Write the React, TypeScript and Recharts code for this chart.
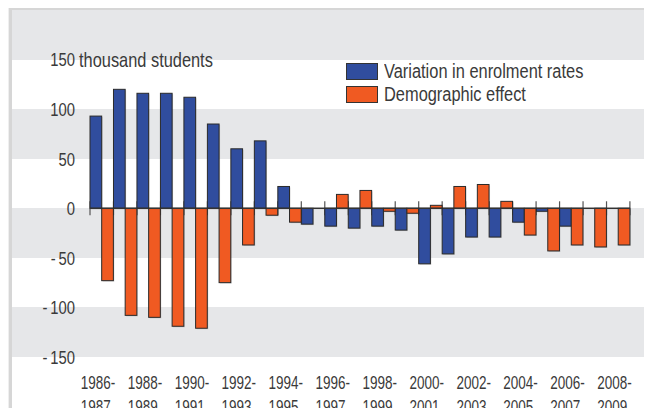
import React from "react";
import { Bar, BarChart, CartesianGrid, Legend, XAxis, YAxis } from "recharts";

const periods = [
  "1986-1987", "1987-1988", "1988-1989", "1989-1990", "1990-1991", "1991-1992",
  "1992-1993", "1993-1994", "1994-1995", "1995-1996", "1996-1997", "1997-1998",
  "1998-1999", "1999-2000", "2000-2001", "2001-2002", "2002-2003", "2003-2004",
  "2004-2005", "2005-2006", "2006-2007", "2007-2008", "2008-2009",
];
// thousand students
const enrolmentRates = [93, 120, 116, 116, 112, 85, 60, 68, 22, -16, -18, -20, -18, -22, -56, -46, -29, -29, -14, -3, -18, 0, 0];
const demographicEffect = [-73, -108, -110, -119, -121, -75, -37, -7, -14, 0, 14, 18, -3, -5, 3, 22, 24, 7, -27, -43, -37, -39, -37];
const yTicks = [-150, -100, -50, 0, 50, 100, 150];
const seriesNames = ["Variation in enrolment rates", "Demographic effect"];

const data = periods.map((period, i) => ({
  period,
  rates: enrolmentRates[i],
  demo: demographicEffect[i],
}));

// no condensed font installed, so Liberation Sans is squeezed horizontally
const FONT = '"Liberation Sans", Arial, sans-serif';
const TEXT = "#3a3a3a";
const BLUE = "#304d9e";
const ORANGE = "#f05a22";
const GREY = "#e6e7e9";

const width = 652;
const height = 416;
const margin = { top: 10, right: 0, left: 11, bottom: 0 };
const pad = { left: 78, right: 22 };
const band = (width - 12 - pad.left - pad.right) / periods.length;
const barSize = band / 2 - 0.05;

const NarrowText = ({ x, y, size, sx, anchor = "start", dy = 0, children }: any) => (
  <text
    transform={`translate(${x},${y}) scale(${sx},1)`}
    dy={dy}
    textAnchor={anchor}
    fontSize={size}
    fontFamily={FONT}
    fill={TEXT}
  >
    {children}
  </text>
);

const makeShape = (first: boolean) => (props: any) => {
  const { x, y, width: w, height: h, fill, index } = props;
  const zero = y + h;
  const top = Math.min(y, zero);
  const hh = Math.abs(h);
  const last = index === periods.length - 1;
  return (
    <g>
      {first && <line x1={x} x2={x} y1={zero - 7} y2={zero + 7} stroke="#555" strokeWidth={1.2} />}
      {!first && last && <line x1={x + w} x2={x + w} y1={zero - 7} y2={zero + 7} stroke="#555" strokeWidth={1.2} />}
      {hh > 0 && (
        <>
          <rect x={x + 1} y={top + 1} width={w} height={hh} fill="#000" opacity={0.15} />
          <rect x={x} y={top} width={w} height={hh} fill={fill} stroke="#2a2a2a" strokeWidth={1} />
        </>
      )}
      <line x1={x} x2={x + w + 0.1} y1={zero} y2={zero} stroke="#333" strokeWidth={1.5} />
    </g>
  );
};

const YTick = ({ y, payload }: any) => {
  const v = payload.value;
  const label = v < 0 ? `-\u2009${-v}` : `${v}`;
  return (
    <g>
      <NarrowText x={75} y={y} dy="0.36em" anchor="end" size={19} sx={0.78}>{label}</NarrowText>
      {v === 150 && (
        <NarrowText x={79} y={y} dy="0.36em" size={20} sx={0.82}>thousand students</NarrowText>
      )}
    </g>
  );
};

const XTick = ({ x, payload }: any) => {
  const [a, b] = String(payload.value).split("-");
  return (
    <g>
      <NarrowText x={x - 21} y={389} size={18} sx={0.75}>{a}-</NarrowText>
      <NarrowText x={x - 21} y={413} size={18} sx={0.75}>{b}</NarrowText>
    </g>
  );
};

const LegendBox = () => (
  <div style={{ fontFamily: FONT, fontSize: 20, color: TEXT }}>
    {seriesNames.map((name, i) => (
      <div key={name} style={{ display: "flex", alignItems: "center", height: 23 }}>
        <div style={{ width: 30, height: 15, background: i === 0 ? BLUE : ORANGE, border: "1px solid #333", marginRight: 6 }} />
        <span style={{ display: "inline-block", whiteSpace: "nowrap", transform: "scaleX(0.82)", transformOrigin: "left center" }}>
          {name}
        </span>
      </div>
    ))}
  </div>
);

const App = () => {
  return (
    <div style={{ position: "relative", width, height, margin: -8, background: "#efefef", overflow: "hidden" }}>
      <div style={{ position: "absolute", left: 9, top: 8, right: 0, bottom: 0, background: "#d6d6d6" }} />
      <div style={{ position: "absolute", left: 12, top: 10, right: 0, bottom: 0, background: "#fff" }} />
      <BarChart width={width} height={height} data={data} margin={margin} barGap={0} barCategoryGap={0}>
        <CartesianGrid horizontalFill={[GREY, "#fff"]} stroke="transparent" vertical={false} />
        <XAxis
          dataKey="period"
          height={59}
          padding={pad}
          axisLine={false}
          tickLine={false}
          interval={1}
          tick={<XTick />}
        />
        <YAxis
          width={1}
          domain={[-150, 200]}
          ticks={yTicks}
          interval={0}
          axisLine={false}
          tickLine={false}
          tick={<YTick />}
        />
        <Legend
          layout="vertical"
          align="center"
          verticalAlign="middle"
          content={<LegendBox />}
          wrapperStyle={{ top: 60, left: 346, width: 300 }}
        />
        <Bar dataKey="rates" name={seriesNames[0]} fill={BLUE} barSize={barSize} shape={makeShape(true)} isAnimationActive={false} />
        <Bar dataKey="demo" name={seriesNames[1]} fill={ORANGE} barSize={barSize} shape={makeShape(false)} isAnimationActive={false} />
      </BarChart>
      <div style={{ position: "absolute", left: 0, top: 0, right: 0, height: 8, background: "#efefef" }} />
      <div style={{ position: "absolute", left: 9, top: 8, right: 0, height: 2, background: "#d6d6d6" }} />
      <svg style={{ position: "absolute", left: 0, top: 0, overflow: "hidden" }} width={width} height={8}>
        <NarrowText x={508} y={6} size={20} sx={0.82}>Metropolitan France</NarrowText>
      </svg>
    </div>
  );
};

export default App;
